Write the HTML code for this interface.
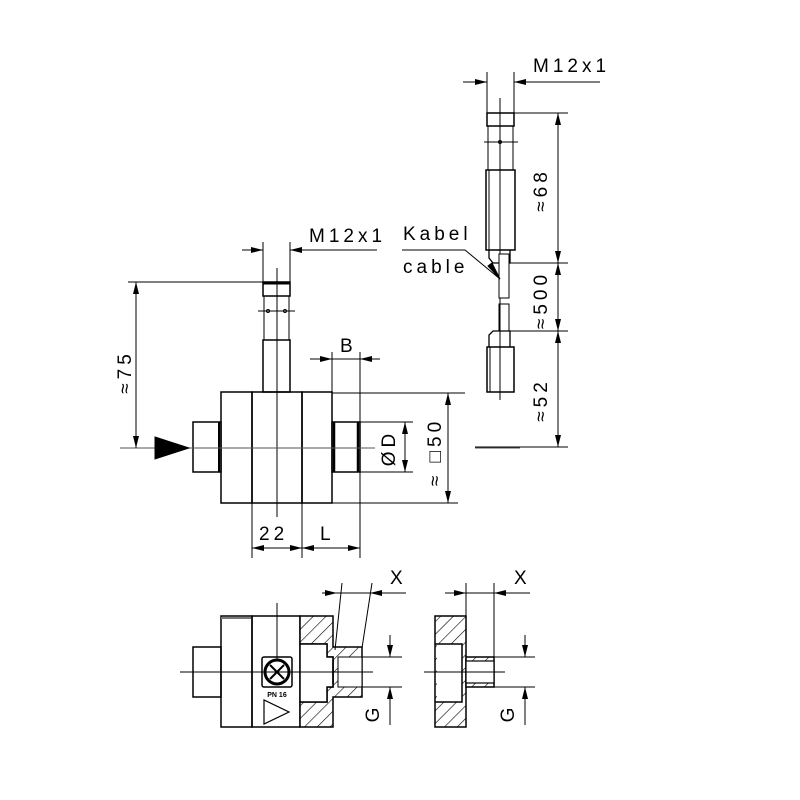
<!DOCTYPE html>
<html><head><meta charset="utf-8"><style>
html,body{margin:0;padding:0;background:#fff;width:800px;height:800px;overflow:hidden}
svg{display:block}
text{font-family:"Liberation Sans",sans-serif;fill:#000}
.t{font-size:19px;letter-spacing:4px}
</style></head><body>
<svg width="800" height="800" viewBox="0 0 800 800" xmlns="http://www.w3.org/2000/svg">
<defs>
<pattern id="h" patternUnits="userSpaceOnUse" width="9" height="9" patternTransform="rotate(45)">
<rect width="9" height="9" fill="#fff"/><line x1="0" y1="0" x2="0" y2="9" stroke="#000" stroke-width="1.2"/>
</pattern>
<marker id="a" viewBox="0 0 12 6" refX="12" refY="3" markerWidth="12" markerHeight="6" orient="auto-start-reverse" markerUnits="userSpaceOnUse"><path d="M0,0L12,3L0,6z" fill="#000"/></marker>
</defs>
<g stroke="#000" stroke-width="1" fill="none">
<!-- ===== Main view ===== -->
<!-- M12x1 left -->
<line x1="242" y1="250" x2="263" y2="250" marker-end="url(#a)"/>
<line x1="311" y1="250" x2="290" y2="250" marker-end="url(#a)"/>
<line x1="290" y1="250" x2="377" y2="250"/>
<line x1="263" y1="242" x2="263" y2="282"/><line x1="290" y1="242" x2="290" y2="282"/>
<!-- sensor left -->
<rect x="263" y="282" width="27" height="14" stroke-width="1.5"/>
<line x1="263" y1="283" x2="290" y2="283" stroke-width="3"/>
<line x1="264" y1="296" x2="264" y2="340"/><line x1="289" y1="296" x2="289" y2="340"/>
<line x1="258" y1="311" x2="295" y2="311"/>
<circle cx="268" cy="311" r="1.5"/><circle cx="285" cy="311" r="1.5"/>
<rect x="263" y="340" width="27" height="52" stroke-width="1.5"/>
<line x1="277" y1="268" x2="277" y2="517"/>
<!-- body -->
<g stroke-width="1.5">
<rect x="221" y="392" width="31" height="111"/>
<rect x="252" y="392" width="50" height="111"/>
<rect x="302" y="392" width="30" height="111"/>
<rect x="193" y="422" width="28" height="50"/>
<rect x="332" y="422" width="28" height="50"/>
</g>
<line x1="219" y1="422" x2="219" y2="472" stroke-width="2"/>
<line x1="334" y1="422" x2="334" y2="472" stroke-width="2.5"/>
<line x1="358" y1="422" x2="358" y2="472" stroke-width="2.5"/>
<line x1="332" y1="393" x2="465" y2="393"/>
<line x1="120" y1="448" x2="375" y2="448" stroke="#555"/>
<line x1="475" y1="448" x2="520" y2="448" stroke="#555"/>
<path d="M155,437L189,448L155,459z" fill="#000"/>
<!-- 75 -->
<line x1="128" y1="282" x2="263" y2="282"/>
<line x1="136" y1="282" x2="136" y2="448" marker-start="url(#a)" marker-end="url(#a)"/>
<!-- B -->
<line x1="310" y1="359" x2="332" y2="359" marker-end="url(#a)"/>
<line x1="380" y1="359" x2="360" y2="359" marker-end="url(#a)"/>
<line x1="332" y1="359" x2="360" y2="359"/>
<line x1="332" y1="352" x2="332" y2="392"/><line x1="360" y1="352" x2="360" y2="422"/>
<!-- D -->
<line x1="360" y1="422" x2="413" y2="422"/><line x1="360" y1="472" x2="413" y2="472"/>
<line x1="405" y1="422" x2="405" y2="472" marker-start="url(#a)" marker-end="url(#a)"/>
<!-- 50 -->
<line x1="332" y1="503" x2="458" y2="503"/>
<line x1="448" y1="393" x2="448" y2="503" marker-start="url(#a)" marker-end="url(#a)"/>
<!-- 22 / L -->
<line x1="252" y1="503" x2="252" y2="558"/><line x1="302" y1="503" x2="302" y2="558"/><line x1="360" y1="472" x2="360" y2="558"/>
<line x1="252" y1="548" x2="302" y2="548" marker-start="url(#a)" marker-end="url(#a)"/>
<line x1="302" y1="548" x2="360" y2="548" marker-start="url(#a)" marker-end="url(#a)"/>
<!-- ===== Cable sensor ===== -->
<line x1="463" y1="82" x2="487" y2="82" marker-end="url(#a)"/>
<line x1="538" y1="82" x2="514" y2="82" marker-end="url(#a)"/>
<line x1="514" y1="82" x2="600" y2="82"/>
<line x1="487" y1="72" x2="487" y2="113"/><line x1="514" y1="72" x2="514" y2="113"/>
<rect x="487" y="113" width="27" height="13" stroke-width="1.5"/>
<line x1="500" y1="98" x2="500" y2="400"/>
<line x1="484" y1="142" x2="518" y2="142"/><circle cx="500" cy="142" r="1.5"/>
<line x1="488" y1="126" x2="488" y2="170"/><line x1="513" y1="126" x2="513" y2="170"/>
<rect x="486" y="170" width="29" height="80" stroke-width="1.5"/>
<line x1="489" y1="170" x2="489" y2="250"/>
<path d="M489,250L489,258L493,263L510,263L510,250" stroke-width="1.3"/>
<rect x="499" y="254" width="10" height="44" fill="#fff"/>
<rect x="499" y="304" width="10" height="27"/>
<path d="M489,347L489,335L493,331L510,331L510,347" stroke-width="1.3"/>
<rect x="487" y="347" width="27" height="45" stroke-width="1.5"/>
<line x1="490" y1="347" x2="490" y2="392"/>
<line x1="514" y1="113" x2="568" y2="113"/>
<line x1="510" y1="263" x2="568" y2="263"/>
<line x1="510" y1="331" x2="568" y2="331"/>
<line x1="475" y1="447" x2="568" y2="447"/>
<line x1="558" y1="113" x2="558" y2="263" marker-start="url(#a)" marker-end="url(#a)"/>
<line x1="558" y1="263" x2="558" y2="331" marker-start="url(#a)" marker-end="url(#a)"/>
<line x1="558" y1="331" x2="558" y2="447" marker-start="url(#a)" marker-end="url(#a)"/>
<path d="M402,250L465,250L500,279"/>
<path d="M500,279L488,266L492,263z" fill="#000"/>
<!-- ===== Bottom left section ===== -->
<rect x="193" y="647" width="28" height="50" stroke-width="1.5"/>
<rect x="221" y="616" width="31" height="111" stroke-width="1.5"/>
<line x1="221" y1="618" x2="252" y2="618" stroke="#777" stroke-width="2"/>
<rect x="252" y="616" width="48" height="111" stroke-width="1.5"/>
<path d="M300,616H333V647H362V697H333V727H300V702H327V687H333V657H327V644H300z" fill="url(#h)" stroke-width="1.5"/>
<path d="M300,644H327V657H333V687H327V702H300z" fill="#fff" stroke-width="1.5"/>
<rect x="338" y="657" width="24" height="30" fill="#fff"/>
<line x1="333" y1="660" x2="333" y2="684" stroke-width="1.5"/>
<rect x="262" y="657" width="30" height="30" rx="2" fill="#fff" stroke-width="1.5"/>
<circle cx="277" cy="672" r="12" stroke-width="3"/>
<path d="M270,665L284,679M284,665L270,679" stroke-width="2"/>
<path d="M264,700L264,724L289,712z" stroke-width="1.2"/>
<line x1="180" y1="672" x2="373" y2="672"/>
<line x1="277" y1="603" x2="277" y2="660"/>
<line x1="322" y1="593" x2="337" y2="593" marker-end="url(#a)"/>
<line x1="406" y1="593" x2="370" y2="593" marker-end="url(#a)"/>
<line x1="337" y1="593" x2="370" y2="593"/>
<line x1="342" y1="583" x2="335" y2="650"/><line x1="372" y1="583" x2="362" y2="648"/>
<line x1="362" y1="657" x2="402" y2="657"/><line x1="362" y1="687" x2="402" y2="687"/>
<line x1="390" y1="635" x2="390" y2="657" marker-end="url(#a)"/>
<line x1="390" y1="725" x2="390" y2="687" marker-end="url(#a)"/>
<!-- ===== Bottom right section ===== -->
<path d="M435,616H466V727H435z" fill="url(#h)" stroke-width="1.5"/>
<path d="M437,644H462V702H437z" fill="#fff" stroke="none"/>
<path d="M435,644H462V702H435" stroke-width="1.5"/>
<path d="M466,657H494V687H466z" fill="url(#h)" stroke-width="1.5"/>
<rect x="466" y="661" width="28" height="22" fill="#fff" stroke-width="1.2"/>
<line x1="424" y1="672" x2="505" y2="672"/>
<line x1="466" y1="583" x2="466" y2="620"/><line x1="494" y1="583" x2="494" y2="657"/>
<line x1="445" y1="593" x2="466" y2="593" marker-end="url(#a)"/>
<line x1="530" y1="593" x2="494" y2="593" marker-end="url(#a)"/>
<line x1="466" y1="593" x2="494" y2="593"/>
<line x1="494" y1="657" x2="535" y2="657"/><line x1="494" y1="687" x2="535" y2="687"/>
<line x1="525" y1="635" x2="525" y2="657" marker-end="url(#a)"/>
<line x1="525" y1="725" x2="525" y2="687" marker-end="url(#a)"/>
</g>
<!-- Texts -->
<text class="t" x="309" y="242">M12x1</text>
<text class="t" x="533" y="72">M12x1</text>
<text class="t" x="403" y="240">Kabel</text>
<text class="t" x="403" y="273">cable</text>
<text class="t" x="340" y="352">B</text>
<text class="t" x="259" y="540">22</text>
<text class="t" x="320" y="540">L</text>
<text class="t" transform="translate(131,372) rotate(-90)" text-anchor="middle">≈75</text>
<text class="t" transform="translate(395,448) rotate(-90)" text-anchor="middle">ØD</text>
<text class="t" transform="translate(441,452) rotate(-90)" text-anchor="middle">≈ □50</text>
<text class="t" transform="translate(547,190) rotate(-90)" text-anchor="middle">≈68</text>
<text class="t" transform="translate(547,300) rotate(-90)" text-anchor="middle">≈500</text>
<text class="t" transform="translate(547,400) rotate(-90)" text-anchor="middle">≈52</text>
<text class="t" x="390" y="584">X</text>
<text class="t" x="514" y="584">X</text>
<text class="t" transform="translate(379,713) rotate(-90)" text-anchor="middle">G</text>
<text class="t" transform="translate(514,713) rotate(-90)" text-anchor="middle">G</text>
<text x="277" y="697" font-size="7" font-weight="bold" text-anchor="middle">PN 16</text>
</svg>
</body></html>
